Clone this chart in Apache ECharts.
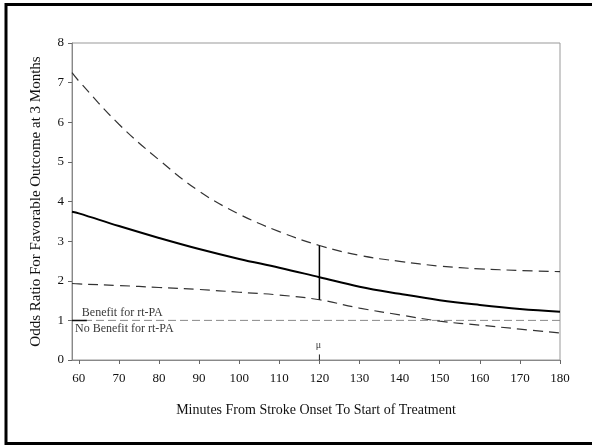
<!DOCTYPE html>
<html>
<head>
<meta charset="utf-8">
<script src="https://cdn.jsdelivr.net/npm/echarts@6/dist/echarts.min.js"></script>
<style>
  html, body { margin: 0; padding: 0; background: #fff; }
  #chart { width: 592px; height: 445px; }
</style>
</head>
<body>
<div id="chart"></div>
<script>
// values (minutes from onset -> odds ratio)
var minutes = [58.3, 60, 70, 80, 90, 100, 110, 120, 130, 140, 150, 160, 170, 180];
var oddsRatio = [3.74, 3.70, 3.38, 3.08, 2.80, 2.55, 2.33, 2.09, 1.85, 1.67, 1.51, 1.39, 1.29, 1.22];
var upperCI = [7.25, 7.04, 5.95, 5.05, 4.26, 3.68, 3.24, 2.89, 2.64, 2.49, 2.37, 2.30, 2.26, 2.23];
var lowerCI = [1.93, 1.92, 1.88, 1.83, 1.78, 1.71, 1.64, 1.52, 1.31, 1.14, 0.98, 0.88, 0.78, 0.68];
var xTicks = [60, 70, 80, 90, 100, 110, 120, 130, 140, 150, 160, 170, 180];
var errorBar = [[120, 1.52], [120, 2.89]];
var refLine = [[58.3, 1], [180, 1]];
var muTick = [[120, 0], [120, 0.14]];

var serif = 'Liberation Serif';

function pairs(ys) {
  return minutes.map(function (m, i) { return [m, ys[i]]; });
}

var myChart = echarts.init(document.getElementById('chart'));

var option = {
  animation: false,
  backgroundColor: '#fff',
  textStyle: { fontFamily: serif },
  graphic: [{
    // scanned frame round the figure
    type: 'rect',
    shape: { x: 6, y: 4.5, width: 640, height: 439 },
    style: { fill: 'none', stroke: '#000', lineWidth: 3 }
  }],
  grid: {
    left: 72, right: 32, top: 43, bottom: 85,
    show: true,
    borderColor: '#999',
    borderWidth: 1
  },
  xAxis: {
    type: 'value',
    min: 58.3,
    max: 180,
    name: 'Minutes From Stroke Onset To Start of Treatment',
    nameLocation: 'middle',
    nameGap: 43,
    nameTextStyle: { fontFamily: serif, fontSize: 14, color: '#111' },
    axisLine: { lineStyle: { color: '#888', width: 1 } },
    axisTick: { show: true, inside: false, length: 4, customValues: xTicks, lineStyle: { color: '#666' } },
    axisLabel: { customValues: xTicks, fontFamily: serif, fontSize: 13, color: '#111', margin: 12 },
    splitLine: { show: false }
  },
  yAxis: {
    type: 'value',
    min: 0,
    max: 8,
    interval: 1,
    name: 'Odds Ratio For Favorable Outcome at 3 Months',
    nameLocation: 'middle',
    nameGap: 28,
    nameRotate: 90,
    nameTextStyle: { fontFamily: serif, fontSize: 15, color: '#111' },
    axisLine: { show: true, lineStyle: { color: '#888', width: 1 } },
    axisTick: { show: true, inside: false, length: 4, lineStyle: { color: '#666' } },
    axisLabel: { fontFamily: serif, fontSize: 13, color: '#111', margin: 8 },
    splitLine: { show: false }
  },
  series: [
    {
      name: 'reference',
      type: 'line',
      data: refLine,
      symbol: 'none',
      lineStyle: { color: '#888', width: 1, type: [8, 4] },
      z: 1
    },
    {
      name: 'reference start',
      type: 'line',
      data: [[58.3, 1], [62, 1]],
      symbol: 'none',
      lineStyle: { color: '#111', width: 1.5 },
      z: 2
    },
    {
      name: 'upper',
      type: 'line',
      data: pairs(upperCI),
      smooth: 0.4,
      symbol: 'none',
      lineStyle: { color: '#333', width: 1.2, type: [10, 6] }
    },
    {
      name: 'lower',
      type: 'line',
      data: pairs(lowerCI),
      smooth: 0.4,
      symbol: 'none',
      lineStyle: { color: '#333', width: 1.2, type: [10, 6] }
    },
    {
      name: 'odds ratio',
      type: 'line',
      data: pairs(oddsRatio),
      smooth: 0.4,
      symbol: 'none',
      lineStyle: { color: '#000', width: 2 },
      z: 4
    },
    {
      name: 'error bar',
      type: 'line',
      data: errorBar,
      symbol: 'none',
      lineStyle: { color: '#000', width: 1.5 },
      z: 5
    },
    {
      name: 'mu tick',
      type: 'line',
      data: muTick,
      symbol: 'none',
      lineStyle: { color: '#222', width: 1 },
      z: 5
    },
    {
      name: 'notes',
      type: 'scatter',
      symbolSize: 2,
      itemStyle: { color: 'rgba(0,0,0,0)' },
      silent: true,
      z: 6,
      label: { show: true, fontFamily: serif, fontSize: 12, color: '#000' },
      data: [
        { value: [61, 1], label: { formatter: 'Benefit for rt-PA', position: [0, 0], align: 'left', verticalAlign: 'bottom', offset: [0, -1] } },
        { value: [59.3, 1], label: { formatter: 'No Benefit for rt-PA', position: [0, 0], align: 'left', verticalAlign: 'top', offset: [0, 3] } },
        { value: [120, 0], label: { formatter: 'μ', position: [0, 0], align: 'center', verticalAlign: 'bottom', offset: [0, -9], fontSize: 10 } }
      ]
    }
  ]
};

myChart.setOption(option);
window.onresize = function () {
  myChart.resize();
};
</script>
</body>
</html>
